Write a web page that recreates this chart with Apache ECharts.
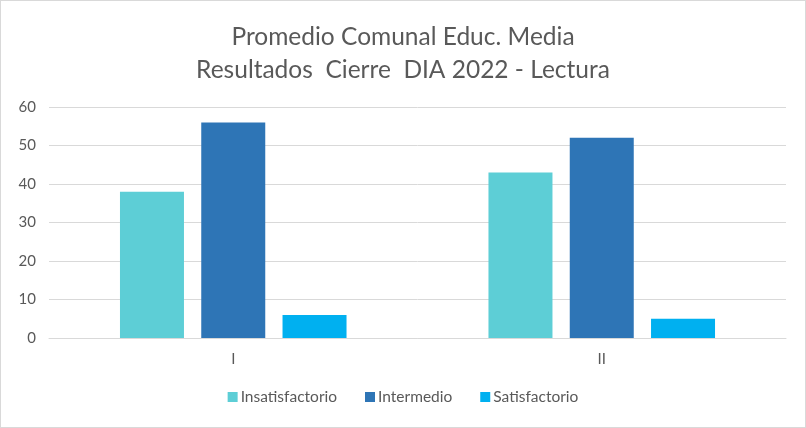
<!DOCTYPE html>
<html><head><meta charset="utf-8">
<script src="https://cdn.jsdelivr.net/npm/echarts@6/dist/echarts.min.js"></script>
<style>
html,body{margin:0;padding:0;background:#fff;}
#c{position:absolute;left:0;top:0;width:804px;height:426px;border:1px solid #d9d9d9;}
</style></head>
<body><div id="c"></div>
<script>
const categories = ['I', 'II'];
const seriesNames = ['Insatisfactorio', 'Intermedio', 'Satisfactorio'];
const insatisfactorio = [38, 43];
const intermedio = [56, 52];
const satisfactorio = [6, 5];
const yTicks = [0, 10, 20, 30, 40, 50, 60];
const colors = ['#5DCED6', '#2E75B6', '#00B0F0'];

const chart = echarts.init(document.getElementById('c'));
const font = 'Lato, "Open Sans", sans-serif';
const values = [insatisfactorio, intermedio, satisfactorio];
chart.setOption({
  animation: false,
  textStyle: {fontFamily: font},
  title: {
    text: 'Promedio Comunal Educ. Media\nResultados  Cierre  DIA 2022 - Lectura',
    left: 'center', top: 15,
    textStyle: {fontSize: 24.5, fontWeight: 'normal', color: '#595959', lineHeight: 33, fontFamily: font}
  },
  legend: {
    bottom: 17, left: 'center', itemWidth: 10, itemHeight: 10, itemGap: 28,
    icon: 'rect',
    textStyle: {fontSize: 15.5, color: '#595959', fontFamily: font, padding: [0, 0, 0, -2]},
    data: seriesNames
  },
  grid: {left: 48, right: 19, top: 106, bottom: 89, containLabel: false},
  xAxis: {
    type: 'category', data: categories,
    axisLine: {lineStyle: {color: '#d9d9d9', width: 1}},
    axisTick: {show: false},
    axisLabel: {fontSize: 15, color: '#595959', margin: 14, fontFamily: font}
  },
  yAxis: {
    type: 'value', min: yTicks[0], max: yTicks[yTicks.length - 1], interval: 10,
    axisLine: {show: false}, axisTick: {show: false},
    axisLabel: {fontSize: 15, color: '#595959', margin: 13, fontFamily: font},
    splitLine: {lineStyle: {color: '#d9d9d9', width: 1}}
  },
  series: seriesNames.map((n, i) => ({
    name: n, type: 'bar', data: values[i],
    itemStyle: {color: colors[i]},
    barWidth: 64, barGap: '27%', barCategoryGap: '39%'
  }))
});
</script></body></html>
